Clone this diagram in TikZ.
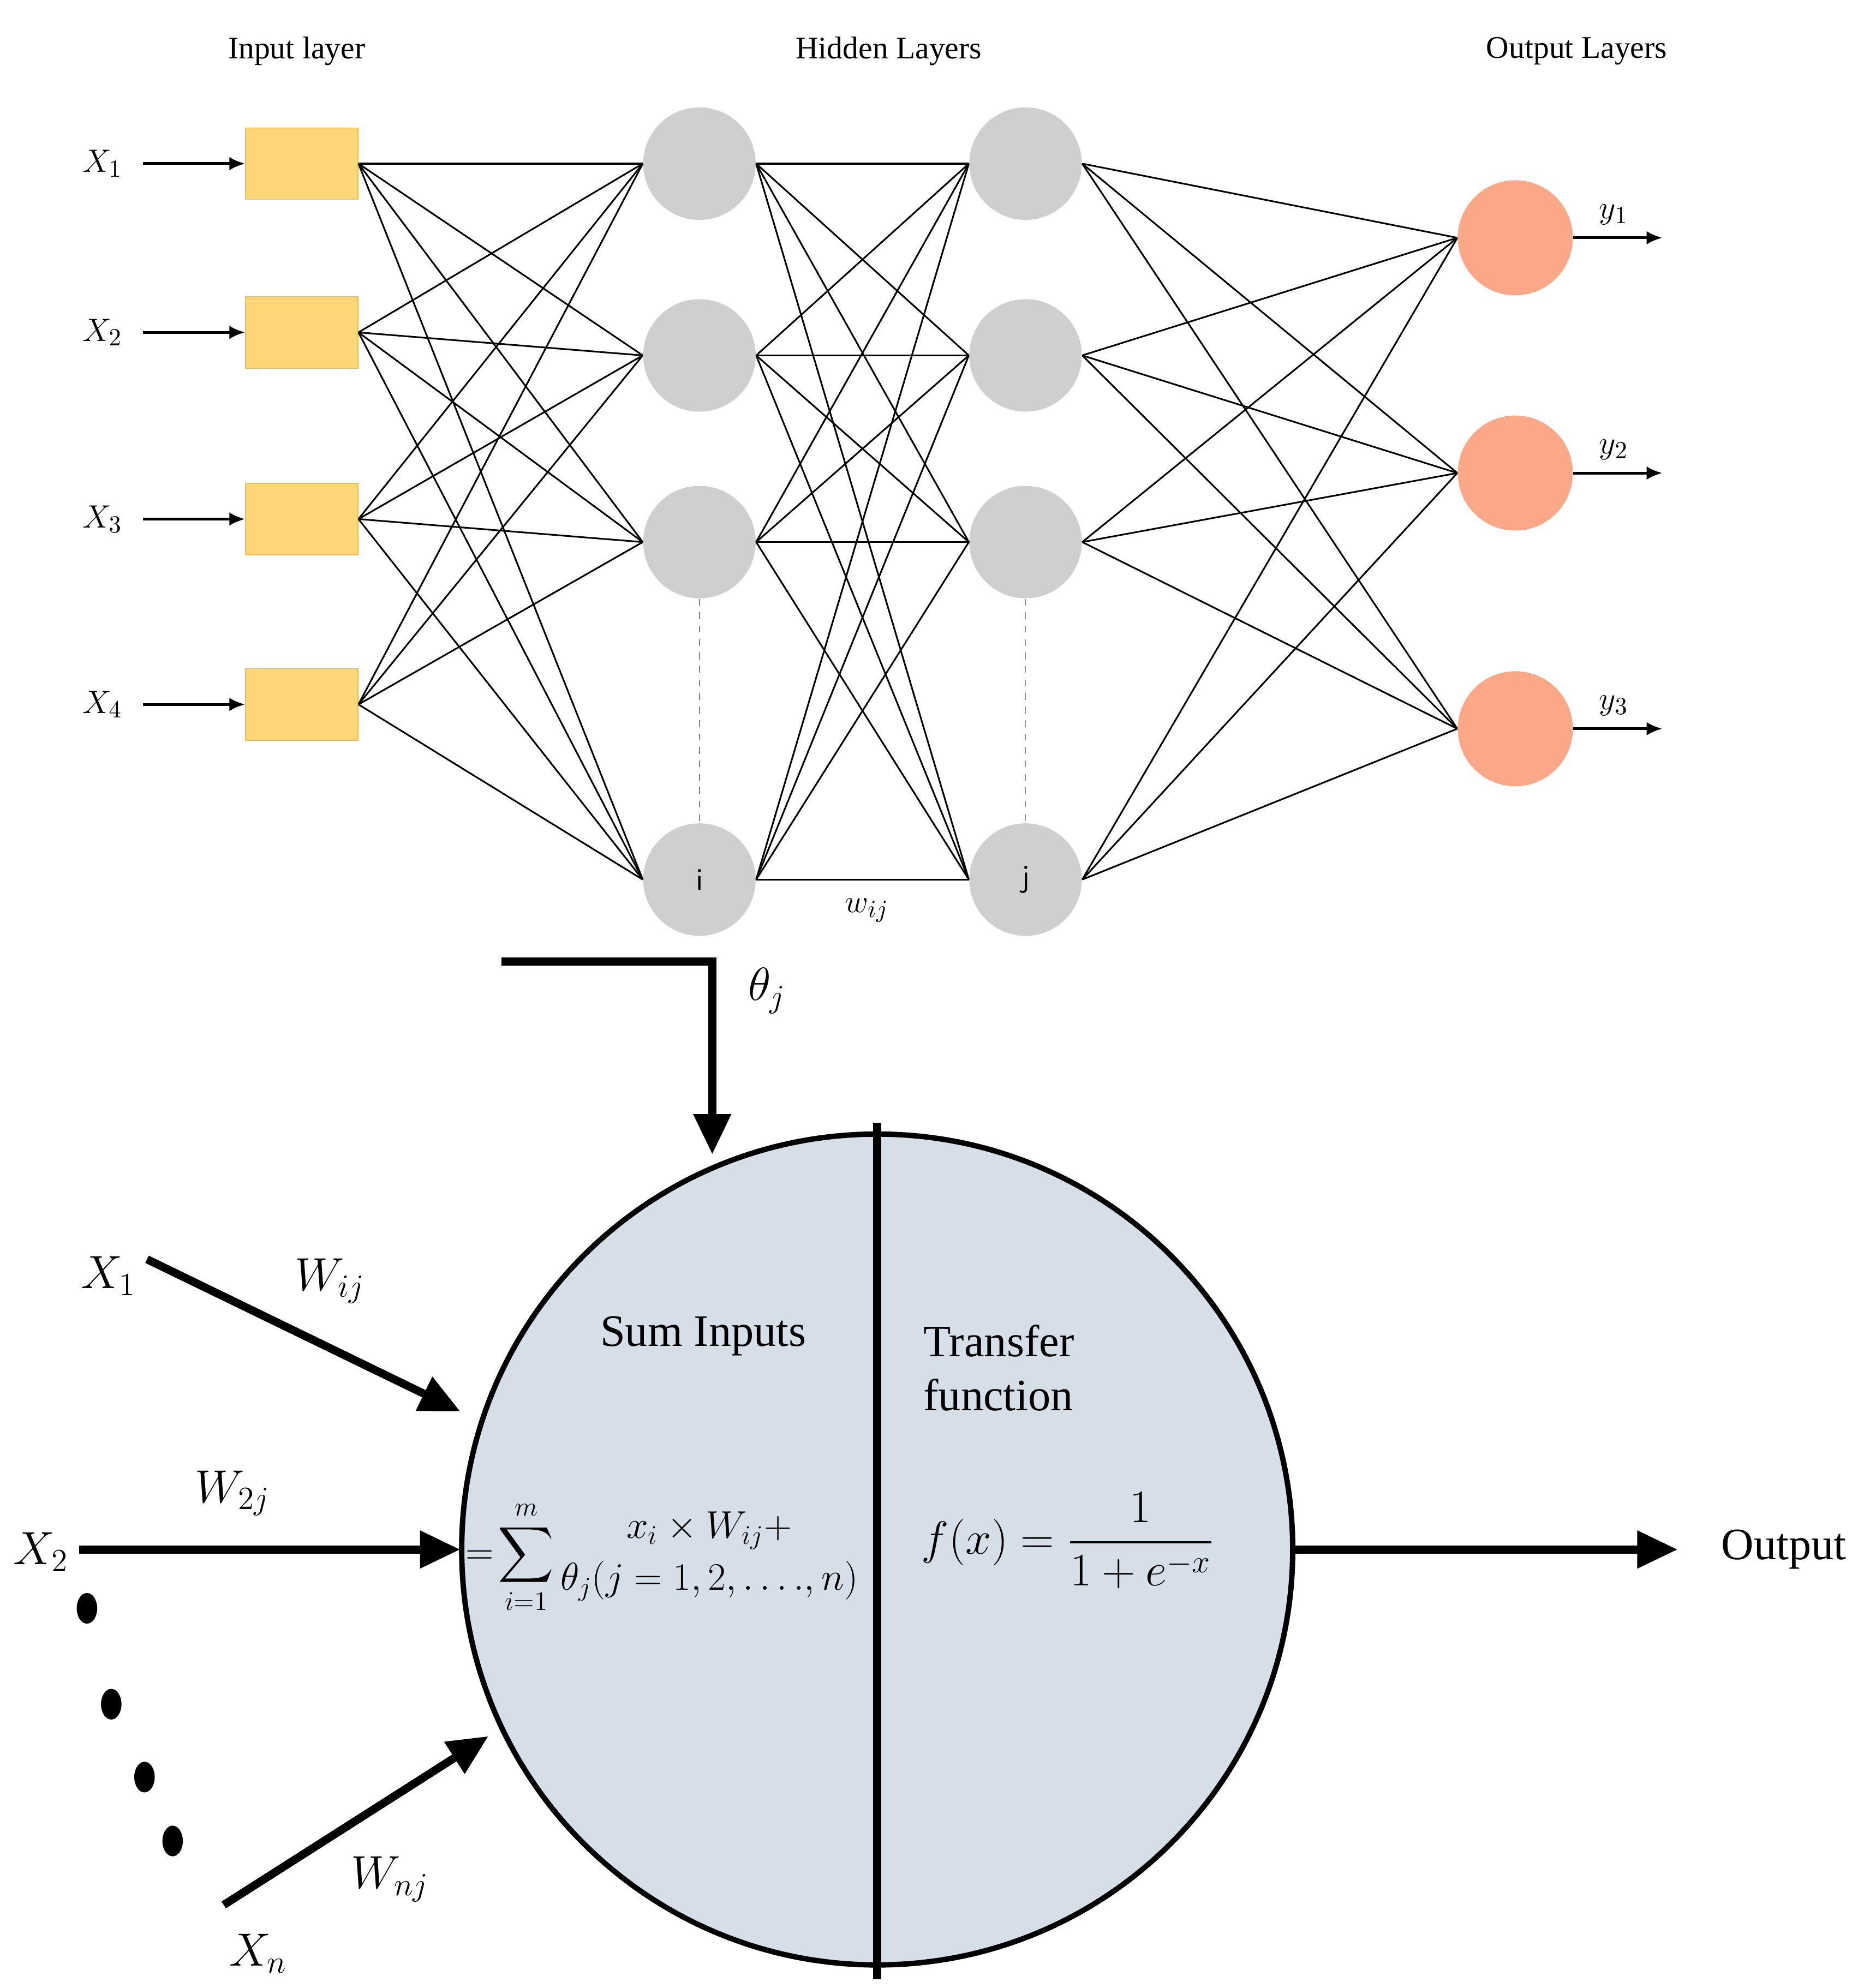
\documentclass[tikz,border=0pt]{standalone}
\usepackage{amsmath}
\usepackage{fontspec}
\setmainfont{Liberation Serif}
\usetikzlibrary{arrows.meta}
\definecolor{bigfill}{RGB}{214,222,232}
\definecolor{infill}{RGB}{253,214,120}
\definecolor{indraw}{RGB}{240,190,70}
\definecolor{outfill}{RGB}{250,168,135}
\begin{document}
\begin{tikzpicture}[x=0.02cm,y=-0.02cm,
  title/.style={font=\fontsize{14}{16}\selectfont},
  inbox/.style={draw=indraw,fill=infill,minimum width=1.76cm,minimum height=1.12cm,inner sep=0},
  hid/.style={circle,fill=gray!38,minimum size=1.76cm,inner sep=0,font=\fontsize{14}{16}\selectfont},
  outn/.style={circle,fill=outfill,minimum size=1.8cm,inner sep=0},
  conn/.style={line width=0.75pt},
  sarr/.style={line width=1.2pt,-{Latex[length=7pt,width=6pt]}},
  barr/.style={line width=3.6pt,-{Triangle[length=18pt,width=16pt]}},
  lab/.style={font=\fontsize{15}{18}\selectfont},
  blab/.style={font=\fontsize{22}{26}\selectfont},
  btext/.style={font=\fontsize{20}{24}\selectfont}]
\useasboundingbox (0,0) rectangle (1462,1555);
\node[title] at (232,40) {Input layer};
\node[title] at (695,40) {Hidden Layers};
\node[title] at (1233,40) {Output Layers};
% nodes
\foreach \n/\y in {1/128,2/260,3/406,4/551}{
  \node[inbox] (in\n) at (236,\y) {};
  \node[lab] (x\n) at (80,\y) {$X_{\n}$};
  \coordinate (xs\n) at (112,\y);
  \draw[sarr] (xs\n) -- (in\n.west);
}
\foreach \n/\y in {1/128,2/278,3/424,4/688}{
  \node[hid] (h\n) at (547,\y) {};
  \node[hid] (g\n) at (802,\y) {};
}
\node[font=\fontsize{14}{16}\selectfont\sffamily] at (h4) {i};
\node[font=\fontsize{14}{16}\selectfont\sffamily] at (g4) {j};
\draw[gray,dashed,line width=0.4pt] (h3.south) -- (h4.north);
\draw[gray,dashed,line width=0.4pt] (g3.south) -- (g4.north);
\foreach \n/\y in {1/186,2/370,3/570}{
  \node[outn] (o\n) at (1185,\y) {};
  \coordinate (oe\n) at (1300,\y);
  \draw[sarr] (o\n.east) -- (oe\n);
  \node[lab] at (1262,\y-18) {$y_{\n}$};
}
\foreach \a in {1,...,4}{\foreach \b in {1,...,4}{
  \draw[conn] (in\a.east) -- (h\b.west);
  \draw[conn] (h\a.east) -- (g\b.west);
}}
\foreach \a in {1,...,4}{\foreach \b in {1,2,3}{
  \draw[conn] (g\a.east) -- (o\b.west);
}}
\node[lab] at (678,712) {$w_{ij}$};
% bottom
\node[circle,draw,line width=2.4pt,fill=bigfill,minimum size=13cm,inner sep=0] (big) at (686,1212) {};
\draw[line width=3.6pt] (686,878) -- (686,1548);
\coordinate (bs) at (392,752);
\coordinate (bc) at (557,752);
\coordinate (be) at (557,903);
\draw[barr] (bs) -- (bc) -- (be);
\node[blab] at (600,775) {$\theta_j$};
\node[btext] at (550,1045) {Sum Inputs};
\node[btext,align=left,anchor=west] at (716,1070) {Transfer\\function};
\node[font=\fontsize{17}{21}\selectfont,anchor=west,inner sep=0] at (364,1218)
  {$=\!\displaystyle\sum_{i=1}^{m}\begin{array}{@{}c@{}}x_i\times W_{ij}+\\[2pt]\theta_j(j=1,2,\ldots.,n)\end{array}$};
\node[font=\fontsize{22}{26}\selectfont] at (835,1205) {$f(x)=\dfrac{1}{1+e^{-x}}$};
\node[blab] (bx1) at (85,998) {$X_1$};
\node[blab] at (258,1002) {$W_{ij}$};
\coordinate (a1s) at (115,985);
\coordinate (a1e) at (360,1104);
\draw[barr] (a1s) -- (a1e);
\node[blab] at (32,1214) {$X_2$};
\node[blab] at (182,1168) {$W_{2j}$};
\coordinate (a2s) at (62,1212);
\coordinate (a2e) at (360,1212);
\draw[barr] (a2s) -- (a2e);
\node[blab] at (202,1528) {$X_n$};
\node[blab] at (305,1470) {$W_{nj}$};
\coordinate (a3s) at (175,1490);
\coordinate (a3e) at (382,1358);
\draw[barr] (a3s) -- (a3e);
\foreach \x/\y in {68/1258,87/1333,113/1390,135/1440}
  \fill (\x,\y) ellipse (8 and 12);
\coordinate (os) at (1012,1212);
\coordinate (oe) at (1312,1212);
\draw[barr] (os) -- (oe);
\node[btext] at (1395,1212) {Output};
\end{tikzpicture}
\end{document}
